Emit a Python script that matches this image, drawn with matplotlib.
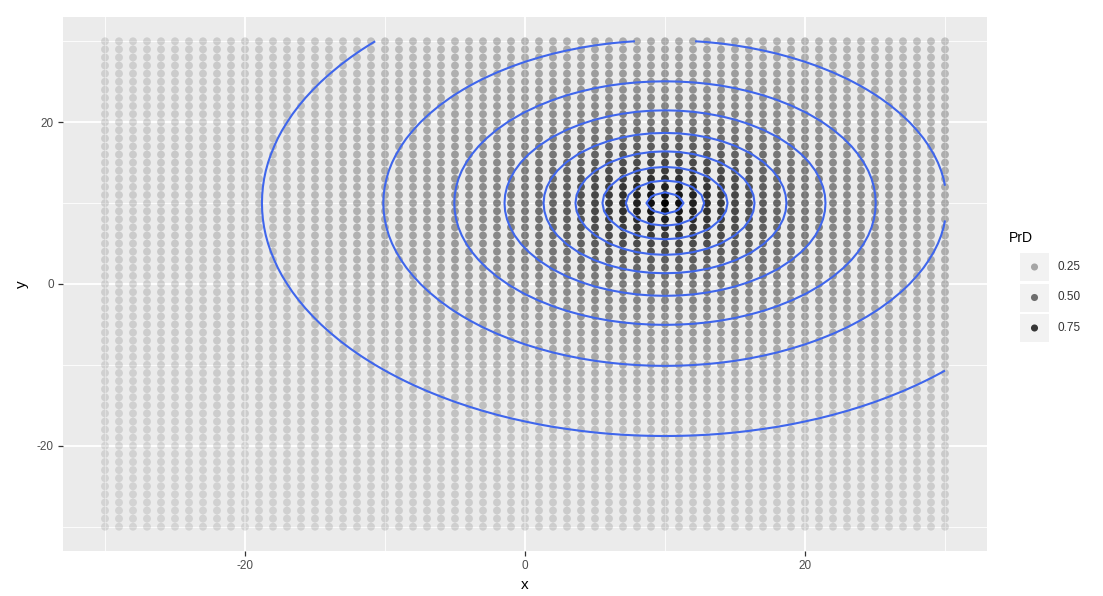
import numpy as np
import matplotlib.pyplot as plt
from matplotlib.patches import Rectangle

plt.rcParams['font.family'] = ['Liberation Sans', 'DejaVu Sans']
plt.rcParams['axes.unicode_minus'] = False

# grid of sampled locations
x_vals = np.arange(-30, 31)
y_vals = np.arange(-30, 31)

# PrD decays exponentially with distance from the source
source_x = 10
source_y = 10
decay_scale = 12.5

contour_levels = [0.1, 0.2, 0.3, 0.4, 0.5, 0.6, 0.7, 0.8, 0.9]
legend_breaks = [0.25, 0.50, 0.75]
axis_breaks = [-20, 0, 20]
minor_breaks = [-30, -10, 10, 30]

X, Y = np.meshgrid(x_vals, y_vals)
dist = np.sqrt((X - source_x) ** 2 + (Y - source_y) ** 2)
PrD = np.exp(-dist / decay_scale)

pmin, pmax = PrD.min(), PrD.max()


def to_alpha(v):
    # same as ggplot scale_alpha: range 0.1 .. 1
    return 0.1 + 0.9 * (np.asarray(v) - pmin) / (pmax - pmin)


W, H = 1103, 596
fig = plt.figure(figsize=(W / 100, H / 100), dpi=100)
ax = fig.add_axes([63 / W, 1 - 551 / H, 924 / W, 534 / H])
ax.set_facecolor('#EBEBEB')

cols = np.zeros((PrD.size, 4))
cols[:, 3] = to_alpha(PrD.ravel())
ax.scatter(X.ravel(), Y.ravel(), s=32, c=cols, linewidths=0, zorder=2)

ax.contour(X, Y, PrD, levels=contour_levels, colors='#3F66EC',
           linewidths=1.5, zorder=3)

ax.set_xlim(-33, 33)
ax.set_ylim(-33, 33)
ax.set_xticks(axis_breaks)
ax.set_yticks(axis_breaks)
ax.set_xticks(minor_breaks, minor=True)
ax.set_yticks(minor_breaks, minor=True)
ax.grid(which='major', color='white', linewidth=1.3)
ax.grid(which='minor', color='white', linewidth=0.6)
ax.tick_params(which='minor', length=0)
ax.tick_params(which='major', length=3.5, width=0.9, color='#333333',
               labelcolor='#4D4D4D', labelsize=8.5, pad=3)
ax.set_axisbelow(True)
for sp in ax.spines.values():
    sp.set_visible(False)

ax.set_xlabel('x', fontsize=11, color='black', labelpad=4)
ax.set_ylabel('y', fontsize=11, color='black', labelpad=6)

# legend for alpha, drawn in pixel coordinates
lax = fig.add_axes([0, 0, 1, 1], facecolor='none')
lax.set_xlim(0, W)
lax.set_ylim(H, 0)
lax.axis('off')
lax.text(1009, 238, 'PrD', fontsize=10, va='center', ha='left')
ly = [267 + i * 30.5 for i in range(len(legend_breaks))]
for yc, b in zip(ly, legend_breaks):
    lax.add_patch(Rectangle((1020, yc - 14), 29, 28,
                            facecolor='#F2F2F2', edgecolor='none', zorder=1))
    lax.text(1058, yc, f'{b:.2f}', fontsize=8.5, color='#333333',
             va='center', ha='left')
lcols = np.zeros((len(legend_breaks), 4))
lcols[:, 3] = to_alpha(legend_breaks)
lax.scatter([1034.5] * len(legend_breaks), ly, s=26, c=lcols,
            linewidths=0, zorder=2)

fig.savefig('out.png', dpi=100)
